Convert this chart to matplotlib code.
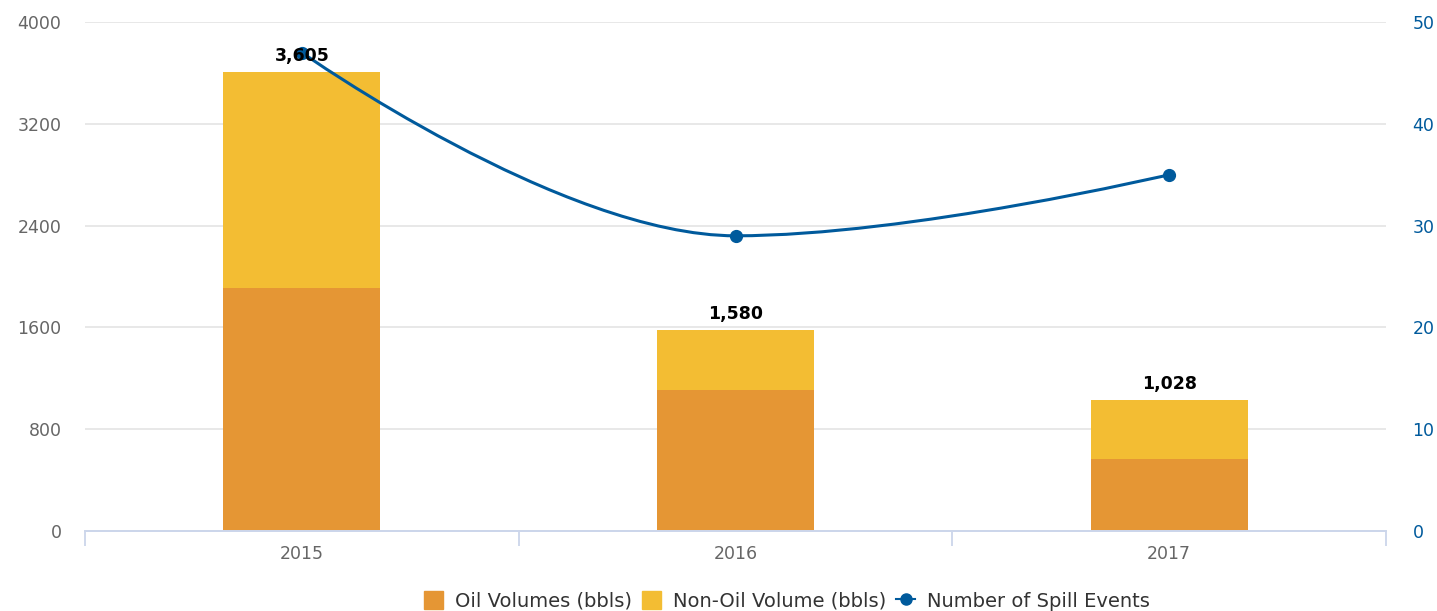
import numpy as np
import matplotlib.pyplot as plt
from matplotlib.path import Path
from matplotlib.patches import PathPatch, Patch
from matplotlib.lines import Line2D

plt.rcParams['font.family'] = ['DejaVu Sans']

annees = ['2015', '2016', '2017']
oil = [1910, 1108, 566]
non_oil = [1695, 472, 462]
totaux = [3605, 1580, 1028]
evenements = [47, 29, 35]

c_oil = '#E59634'
c_non_oil = '#F3BD33'
c_ligne = '#005A9C'


def controles_spline(xs, ys, lissage=1.5):
    """Points de controle facon spline Highcharts"""
    denom = lissage + 1
    n = len(xs)
    gauche = [(xs[i], ys[i]) for i in range(n)]
    droite = [(xs[i], ys[i]) for i in range(n)]
    for i in range(1, n - 1):
        lx, ly = xs[i - 1], ys[i - 1]
        nx, ny = xs[i + 1], ys[i + 1]
        x, y = xs[i], ys[i]
        lcx = (lissage * x + lx) / denom
        lcy = (lissage * y + ly) / denom
        rcx = (lissage * x + nx) / denom
        rcy = (lissage * y + ny) / denom
        corr = (rcy - lcy) * (rcx - x) / (rcx - lcx) + y - rcy
        lcy += corr
        rcy += corr
        if lcy > max(ly, y):
            lcy = max(ly, y)
            rcy = 2 * y - lcy
        elif lcy < min(ly, y):
            lcy = min(ly, y)
            rcy = 2 * y - lcy
        if rcy > max(ny, y):
            rcy = max(ny, y)
            lcy = 2 * y - rcy
        elif rcy < min(ny, y):
            rcy = min(ny, y)
            lcy = 2 * y - rcy
        gauche[i] = (lcx, lcy)
        droite[i] = (rcx, rcy)
    verts = [(xs[0], ys[0])]
    codes = [Path.MOVETO]
    for i in range(1, n):
        verts += [droite[i - 1], gauche[i], (xs[i], ys[i])]
        codes += [Path.CURVE4] * 3
    return Path(verts, codes)


fig = plt.figure(figsize=(14.37, 6.11), dpi=100)
ax = fig.add_axes([85 / 1437, 1 - 531 / 611, 1301 / 1437, 509 / 611])
ax2 = ax.twinx()

x = np.arange(len(annees))
largeur = 0.362
ax.bar(x, oil, largeur, color=c_oil, zorder=2)
ax.bar(x, non_oil, largeur, bottom=oil, color=c_non_oil, zorder=2)

ax.set_xlim(-0.5, len(annees) - 0.5)
ax.set_ylim(0, 4000)
ax.set_yticks(np.arange(0, 4001, 800))
ax.set_xticks(x)
ax.set_xticklabels(annees)
ax.set_xticks(np.arange(-0.5, len(annees)), minor=True)
ax.grid(axis='y', color='#e6e6e6', linewidth=1.3, zorder=0)
ax.set_axisbelow(True)

ax2.set_ylim(0, 50)
ax2.set_yticks(np.arange(0, 51, 10))
chemin = controles_spline(list(x), evenements)
ax2.add_patch(PathPatch(chemin, facecolor='none', edgecolor=c_ligne, linewidth=2.2, zorder=3))
ax2.plot(x, evenements, 'o', color=c_ligne, markersize=8.5, zorder=4)

for a in (ax, ax2):
    for s in ['top', 'left', 'right']:
        a.spines[s].set_visible(False)
    a.spines['bottom'].set_color('#ccd6eb')
    a.spines['bottom'].set_linewidth(1.3)

ax.tick_params(axis='y', length=0, labelsize=12.5, labelcolor='#666666', pad=17)
ax.tick_params(axis='x', which='major', length=0, labelsize=12.5, labelcolor='#666666', pad=10)
ax.tick_params(axis='x', which='minor', length=11, width=1.3, color='#ccd6eb')
ax2.tick_params(axis='y', length=0, labelsize=12.5, labelcolor=c_ligne, pad=19)

# etiquettes des totaux
for xi, t in zip(x, totaux):
    ax2.annotate(f'{t:,}', xy=(xi, t), xycoords=ax.transData, xytext=(0, 5),
                 textcoords='offset points', ha='center', va='bottom',
                 fontsize=12.5, fontweight='bold', color='#000000', zorder=5)

poignees = [
    Patch(color=c_oil, label='Oil Volumes (bbls)'),
    Patch(color=c_non_oil, label='Non-Oil Volume (bbls)'),
    Line2D([], [], color=c_ligne, marker='o', markersize=8, linewidth=1.5,
           label='Number of Spill Events'),
]
fig.legend(handles=poignees, loc='center', bbox_to_anchor=(787 / 1437, 1 - 601 / 611),
           ncol=3, frameon=False, fontsize=14, labelcolor='#333333',
           handlelength=1.0, handleheight=1.0, handletextpad=0.6, columnspacing=0.5)

fig.savefig('out.png', dpi=100)
